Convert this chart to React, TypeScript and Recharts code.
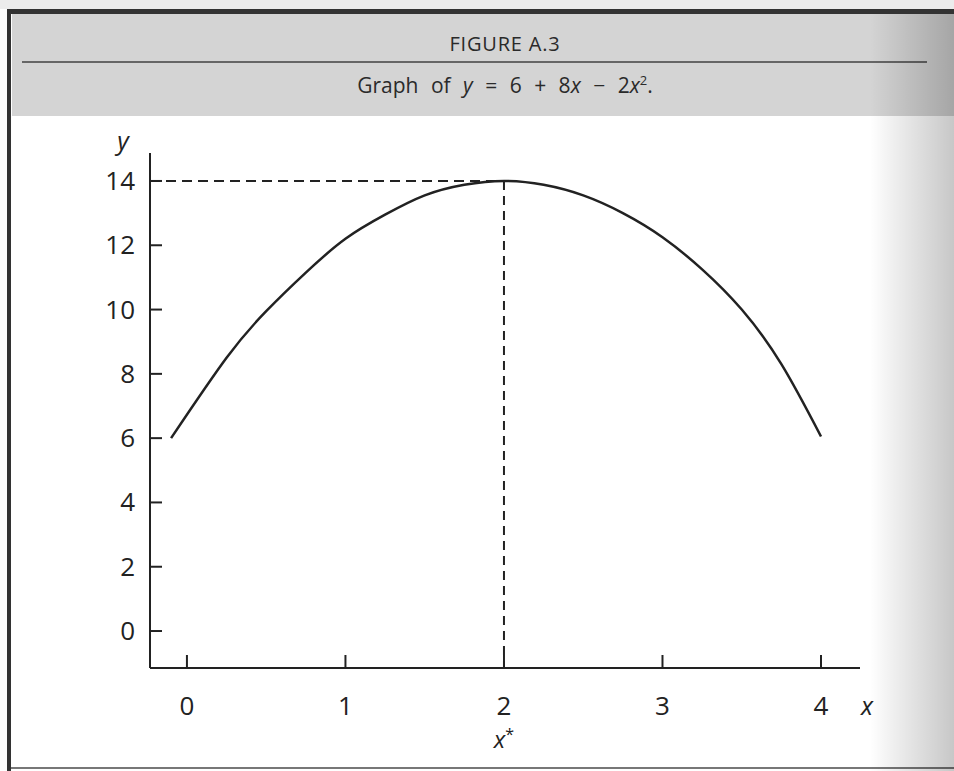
import { LineChart, Line, XAxis, YAxis, ReferenceLine } from 'recharts'

// curve y = 6 + 8x - 2x^2 as traced on the printed figure
const curveX = [-0.1, 0.25, 0.5, 0.75, 1.0, 1.25, 1.5, 1.75, 2.0, 2.25, 2.5, 2.75, 3.0, 3.25, 3.5, 3.75, 4.0]
const curveY = [6.0, 8.5, 9.95, 11.15, 12.2, 12.95, 13.55, 13.88, 14.0, 13.88, 13.55, 13.0, 12.25, 11.25, 10.0, 8.3, 6.05]

const xTicks = [0, 1, 2, 3, 4]
const yTicks = [0, 2, 4, 6, 8, 10, 12, 14]

const xDomain = [-0.233, 4.246]
const yDomain = [-1.15, 14.87]

const peakX = 2
const peakY = 14

const data = curveX.map((x, i) => ({ x, y: curveY[i] }))

const FONT = '"Open Sans", sans-serif'
const INK = '#222'

function YTick({ x, y, payload }: any) {
  return (
    <g>
      <line x1={x} y1={y} x2={x + 12} y2={y} stroke={INK} strokeWidth={2} />
      <text x={x - 15} y={y + 9} textAnchor="end" fontFamily={FONT} fontSize={26} fill={INK}>
        {payload.value}
      </text>
    </g>
  )
}

function XTick({ x, y, payload }: any) {
  return (
    <g>
      <line x1={x} y1={y} x2={x} y2={y - 13} stroke={INK} strokeWidth={2} />
      <text x={x} y={y + 47} textAnchor="middle" fontFamily={FONT} fontSize={26} fill={INK}>
        {payload.value}
      </text>
      {payload.value === peakX && (
        <text x={x} y={y + 80} textAnchor="middle" fontFamily={FONT} fontSize={24} fill={INK}>
          <tspan fontStyle="italic">x</tspan>
          <tspan dy={-8} fontSize={16}>*</tspan>
        </text>
      )}
    </g>
  )
}

function XName({ viewBox }: any) {
  return (
    <text x={viewBox.x + viewBox.width + 1} y={viewBox.y + 47} fontFamily={FONT} fontStyle="italic" fontSize={25} fill={INK}>
      x
    </text>
  )
}

function YName({ viewBox }: any) {
  return (
    <text x={viewBox.x + 23} y={viewBox.y - 3} textAnchor="middle" fontFamily={FONT} fontStyle="italic" fontSize={25} fill={INK}>
      y
    </text>
  )
}

export default function App() {
  return (
    <div style={{ position: 'fixed', left: 0, top: 0, width: 954, height: 771, background: '#fff', overflow: 'hidden' }}>
      {/* page edge above the box */}
      <div style={{ position: 'absolute', left: 0, top: 0, width: 954, height: 9, background: '#ececec' }} />
      {/* box frame */}
      <div style={{ position: 'absolute', left: 7, top: 9, width: 947, height: 5, background: '#333' }} />
      <div style={{ position: 'absolute', left: 7, top: 9, width: 4, height: 762, background: '#333' }} />
      <div style={{ position: 'absolute', left: 11, top: 767, width: 943, height: 2, background: '#777' }} />

      {/* caption band */}
      <div style={{ position: 'absolute', left: 12, top: 14, width: 942, height: 102, background: '#d4d4d4' }} />
      <div
        style={{
          position: 'absolute', left: 0, top: 30, width: 1010, textAlign: 'center',
          fontFamily: FONT, fontSize: 20, color: '#2a2a2a', letterSpacing: 0.8,
        }}
      >
        FIGURE A.3
      </div>
      <div style={{ position: 'absolute', left: 22, top: 61, width: 905, height: 2, background: '#666' }} />
      <div
        style={{
          position: 'absolute', left: 0, top: 71, width: 1010, textAlign: 'center',
          fontFamily: FONT, fontSize: 21, color: '#2a2a2a', wordSpacing: 7,
        }}
      >
        Graph of <i>y</i> = 6 + 8<i>x</i> − 2<i>x</i><sup style={{ fontSize: 13 }}>2</sup>.
      </div>

      <div style={{ position: 'absolute', left: 0, top: 0 }}>
        <LineChart width={954} height={771} data={data} margin={{ top: 153, right: 94, bottom: 43, left: 100 }}>
          <XAxis
            type="number"
            dataKey="x"
            domain={xDomain}
            allowDataOverflow
            ticks={xTicks}
            height={60}
            tickSize={0}
            tickMargin={0}
            tick={<XTick />}
            axisLine={{ stroke: INK, strokeWidth: 2 }}
            tickLine={false}
            label={<XName />}
          />
          <YAxis
            type="number"
            domain={yDomain}
            allowDataOverflow
            ticks={yTicks}
            width={50}
            tickSize={0}
            tickMargin={0}
            tick={<YTick />}
            axisLine={{ stroke: INK, strokeWidth: 2 }}
            tickLine={false}
            label={<YName />}
          />
          <ReferenceLine
            segment={[{ x: xDomain[0], y: peakY }, { x: peakX, y: peakY }]}
            stroke={INK}
            strokeWidth={2}
            strokeDasharray="10 6"
            ifOverflow="visible"
          />
          <ReferenceLine
            segment={[{ x: peakX, y: peakY }, { x: peakX, y: yDomain[0] }]}
            stroke={INK}
            strokeWidth={2}
            strokeDasharray="9 6"
            ifOverflow="visible"
          />
          <Line
            type="natural"
            dataKey="y"
            stroke={INK}
            strokeWidth={2.5}
            dot={false}
            activeDot={false}
            isAnimationActive={false}
          />
        </LineChart>
      </div>

      {/* binding shadow on the right edge */}
      <div
        style={{
          position: 'absolute', left: 870, top: 14, width: 84, height: 757,
          background: 'linear-gradient(to right, rgba(0,0,0,0) 0%, rgba(0,0,0,0.08) 35%, rgba(0,0,0,0.22) 100%)',
        }}
      />
    </div>
  )
}
